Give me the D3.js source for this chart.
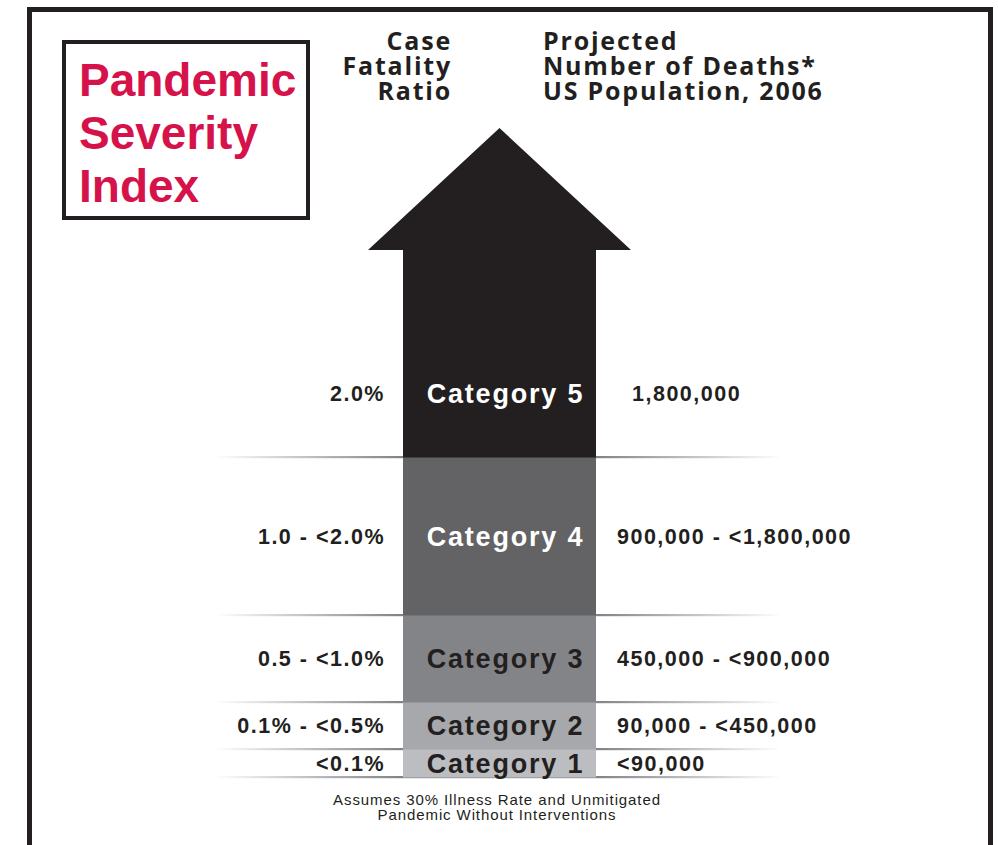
<!DOCTYPE html>
<html><head><meta charset="utf-8">
<script src="https://cdn.jsdelivr.net/npm/d3@7"></script>
<style>html,body{margin:0;padding:0;background:#fff;}svg{display:block;}</style>
</head><body>
<script>
// ---- data ----
const categories = ["Category 1","Category 2","Category 3","Category 4","Category 5"];
const cfrLabels = ["<0.1%","0.1% - <0.5%","0.5 - <1.0%","1.0 - <2.0%","2.0%"];
const deathLabels = ["<90,000","90,000 - <450,000","450,000 - <900,000","900,000 - <1,800,000","1,800,000"];
const bandUnits = [28, 47, 87, 158, 128]; // relative visual span of each band in the arrow
const fills = ["#bcbdc0","#a7a8ab","#838488","#636365","#231f20"];
const textFills = ["#231f20","#231f20","#231f20","#ffffff","#ffffff"];
const titleLines = ["Pandemic","Severity","Index"];
const cfrHeader = ["Case","Fatality","Ratio"];
const deathHeader = ["Projected","Number of Deaths*","US Population, 2006"];
const footnote = ["Assumes 30% Illness Rate and Unmitigated","Pandemic Without Interventions"];

const W = 998, H = 845;
const svg = d3.select("body").append("svg").attr("width", W).attr("height", H);
const dark = "#231f20";

// outer frame
svg.append("rect").attr("x",29.5).attr("y",9.5).attr("width",961).attr("height",900)
  .attr("fill","none").attr("stroke",dark).attr("stroke-width",5);

// title box
svg.append("rect").attr("x",64).attr("y",42).attr("width",244).attr("height",176)
  .attr("fill","#fff").attr("stroke",dark).attr("stroke-width",4);
svg.append("g").selectAll("text").data(titleLines).join("text")
  .attr("x",79).attr("y",(d,i)=>96+i*53)
  .attr("font-family","'Liberation Sans', Arial, sans-serif").attr("font-weight","bold")
  .attr("font-size",46).attr("fill","#d5134a").text(d=>d);

// headers
const hdrFont = "'Open Sans', 'Liberation Sans', sans-serif";
svg.append("g").selectAll("text").data(cfrHeader).join("text")
  .attr("x",452).attr("y",(d,i)=>50+i*25).attr("text-anchor","end")
  .attr("font-family",hdrFont).attr("font-weight",700).attr("font-size",25)
  .attr("letter-spacing",1.8).attr("fill",dark).text(d=>d);
svg.append("g").selectAll("text").data(deathHeader).join("text")
  .attr("x",543).attr("y",(d,i)=>50+i*25)
  .attr("font-family",hdrFont).attr("font-weight",700).attr("font-size",25)
  .attr("letter-spacing",1.8).attr("fill",dark).text(d=>d);

// scales
const cum = d3.cumsum(bandUnits);
const y = d3.scaleLinear().domain([0, cum[cum.length-1]]).range([777, 329]);
const x = d3.scaleLinear().domain([0,1]).range([403, 596]);
const bands = categories.map((c,i)=>({c, i, y0: i?cum[i-1]:0, y1: cum[i]}));

// separator lines with gradient
const defs = svg.append("defs");
const grad = defs.append("linearGradient").attr("id","sep").attr("gradientUnits","userSpaceOnUse")
  .attr("x1",215).attr("x2",782).attr("y1",0).attr("y2",0);
[[0,"#ffffff"],[0.12,"#d0d1d3"],[0.33,"#808285"],[0.67,"#808285"],[0.88,"#d0d1d3"],[1,"#ffffff"]]
  .forEach(([o,c])=>grad.append("stop").attr("offset",o).attr("stop-color",c));
const sepYs = [0, ...cum.slice(0,4)];
svg.append("g").selectAll("rect").data(sepYs).join("rect")
  .attr("x",215).attr("width",567).attr("y",d=>y(d)-1).attr("height",2.2).attr("fill","url(#sep)");

// arrow head and top of shaft
const headBase = 250, tipY = 128;
svg.append("path")
  .attr("d", `M${x(0)},${y(cum[4])} L${x(0)},${headBase} L368,${headBase} L${(x(0)+x(1))/2},${tipY} L631,${headBase} L${x(1)},${headBase} L${x(1)},${y(cum[4])} Z`)
  .attr("fill", fills[4]);

// shaft bands
svg.append("g").selectAll("rect").data(bands).join("rect")
  .attr("x",x(0)).attr("width",x(1)-x(0))
  .attr("y",d=>y(d.y1)).attr("height",d=>y(d.y0)-y(d.y1)+0.5)
  .attr("fill",d=>fills[d.i]);

const lblFont = "'Liberation Sans', Arial, sans-serif";
// category labels
svg.append("g").selectAll("text").data(bands).join("text")
  .attr("x",(x(0)+x(1))/2+6).attr("y",d=>(y(d.y0)+y(d.y1))/2)
  .attr("dy","0.36em").attr("text-anchor","middle")
  .attr("font-family",lblFont).attr("font-weight","bold").attr("font-size",27)
  .attr("letter-spacing",1.8).attr("fill",d=>textFills[d.i]).text(d=>d.c);
// CFR labels
svg.append("g").selectAll("text").data(bands).join("text")
  .attr("x",385).attr("y",d=>(y(d.y0)+y(d.y1))/2)
  .attr("dy","0.36em").attr("text-anchor","end")
  .attr("font-family",lblFont).attr("font-weight","bold").attr("font-size",21.5)
  .attr("letter-spacing",1.5).attr("fill",dark).text(d=>cfrLabels[d.i]);
// death labels
svg.append("g").selectAll("text").data(bands).join("text")
  .attr("x",d=>d.i===4?632:617).attr("y",d=>(y(d.y0)+y(d.y1))/2)
  .attr("dy","0.36em")
  .attr("font-family",lblFont).attr("font-weight","bold").attr("font-size",21.5)
  .attr("letter-spacing",1.5).attr("fill",dark).text(d=>deathLabels[d.i]);

// footnote
svg.append("g").selectAll("text").data(footnote).join("text")
  .attr("x",497).attr("y",(d,i)=>805+i*14.5).attr("text-anchor","middle")
  .attr("font-family",lblFont).attr("font-size",15).attr("letter-spacing",0.9)
  .attr("fill",dark).text(d=>d);
</script>
</body></html>
